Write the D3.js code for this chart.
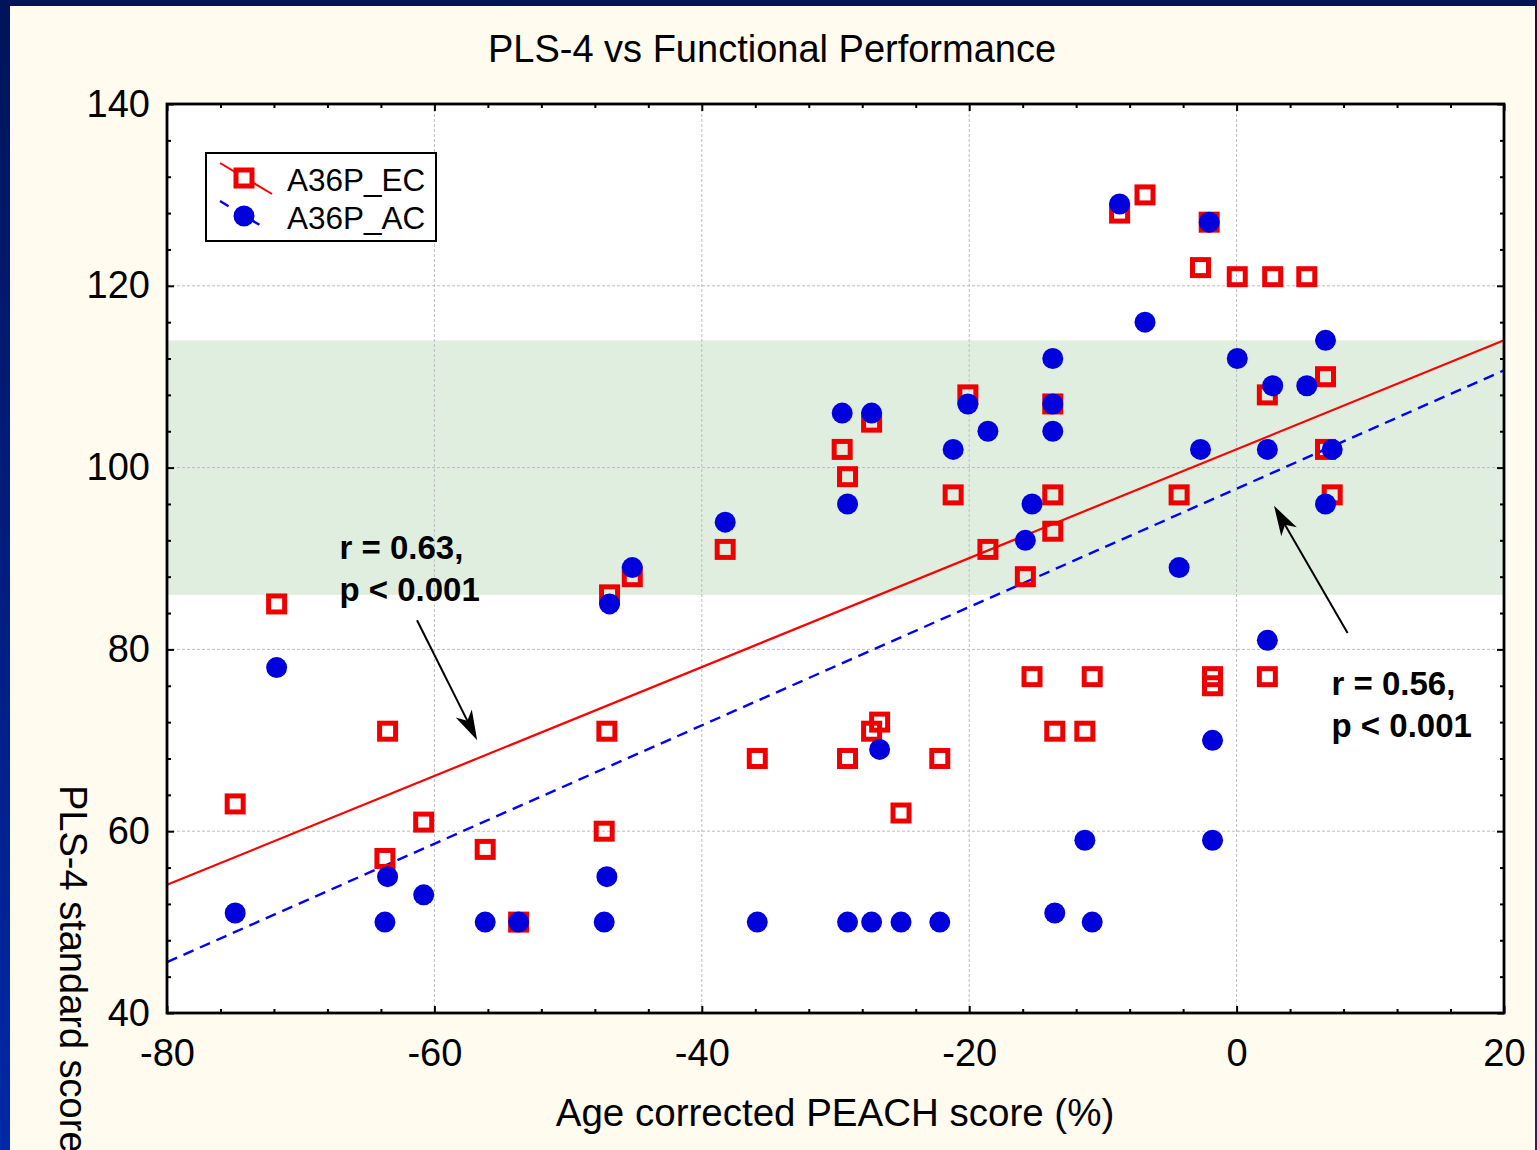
<!DOCTYPE html>
<html>
<head>
<meta charset="utf-8">
<script src="https://cdn.jsdelivr.net/npm/d3@7"></script>
<style>
	body { margin: 0; overflow: hidden; background: #00176a; }
	text { font-family: "Liberation Sans", Arial, sans-serif; }
</style>
</head>
<body>
<script>
// age corrected PEACH score (%), shared by both series (paired subjects)
const peach_scores = [-74.9, -71.8, -63.7, -63.5, -60.8, -56.2, -53.7, -47.3, -47.1, -46.9,
	-45.2, -38.25, -35.85, -29.5, -29.1, -29.1, -27.3, -27.3, -26.7, -25.1,
	-22.2, -21.2, -20.1, -18.6, -15.8, -15.3, -13.75, -13.75, -13.75, -13.6,
	-11.35, -10.8, -8.75, -6.85, -4.3, -2.7, -2.05, -1.8, -1.8, 0.05,
	2.3, 2.3, 2.7, 5.25, 6.65, 6.65, 7.15];
// PLS-4 standard scores
const ec_scores = [63, 85, 57, 71, 61, 58, 50, 60, 71, 86,
	88, 91, 68, 102, 99, 68, 105, 71, 72, 62,
	68, 97, 108, 91, 88, 77, 107, 97, 93, 71,
	71, 77, 128, 130, 97, 122, 127, 77, 76, 121,
	108, 77, 121, 121, 110, 102, 97];
const ac_scores = [51, 78, 50, 55, 53, 50, 50, 50, 55, 85,
	89, 94, 50, 106, 96, 50, 106, 50, 69, 50,
	50, 102, 107, 104, 92, 96, 112, 107, 104, 51,
	59, 50, 129, 116, 89, 102, 127, 70, 59, 112,
	102, 81, 109, 109, 114, 96, 102];

const series_names = ['A36P_EC', 'A36P_AC'];
// regression line end points
const ec_fit = [[-80, 54.1], [20, 114.0]];
const ac_fit = [[-80, 45.6], [20, 110.7]];
// normal range band
const normal_band = [86, 114];

const x_ticks = [-80, -60, -40, -20, 0, 20];
const y_ticks = [40, 60, 80, 100, 120, 140];

const note_texts = [['r = 0.63,', 'p < 0.001'], ['r = 0.56,', 'p < 0.001']];
const note_anchors = [[-67.1, 89.9], [7.1, 75.0]];
const note_arrows = [[[-61.3, 83.2], [-56.8, 70.0]], [[8.3, 81.8], [2.8, 95.8]]];

function init()
{
	const width = 1537, height = 1150;
	const plot = {left: 167, right: 1504, top: 104, bottom: 1013};
	const font = '"Liberation Sans", Arial, sans-serif';

	var svg = d3.select('body').append('svg')
		.attr('width', width)
		.attr('height', height);

	var grad = svg.append('defs').append('linearGradient')
		.attr('id', 'frame')
		.attr('x1', 0).attr('y1', 0).attr('x2', 0).attr('y2', 1);
	grad.append('stop').attr('offset', '0%').attr('stop-color', '#00145a');
	grad.append('stop').attr('offset', '100%').attr('stop-color', '#0028a8');

	svg.append('rect').attr('width', width).attr('height', height).attr('fill', 'url(#frame)');
	svg.append('rect')
		.attr('x', 10).attr('y', 6)
		.attr('width', 1525).attr('height', height - 6)
		.attr('fill', '#fffbef');

	var x = d3.scaleLinear().domain([-80, 20]).range([plot.left, plot.right]);
	var y = d3.scaleLinear().domain([40, 140]).range([plot.bottom, plot.top]);

	// plot area
	svg.append('rect')
		.attr('x', plot.left).attr('y', plot.top)
		.attr('width', plot.right - plot.left).attr('height', plot.bottom - plot.top)
		.attr('fill', '#ffffff');

	svg.append('rect')
		.attr('x', plot.left)
		.attr('y', y(normal_band[1]))
		.attr('width', plot.right - plot.left)
		.attr('height', y(normal_band[0]) - y(normal_band[1]))
		.attr('fill', '#e0eee0');

	// grid
	var grid = svg.append('g')
		.attr('stroke', '#bdbdbd')
		.attr('stroke-width', 1)
		.attr('stroke-dasharray', '3,2');
	grid.selectAll('.gx')
		.data(x_ticks.slice(1, -1))
		.enter()
		.append('line')
			.attr('x1', function(d) { return x(d); })
			.attr('x2', function(d) { return x(d); })
			.attr('y1', plot.top)
			.attr('y2', plot.bottom);
	grid.selectAll('.gy')
		.data(y_ticks.slice(1, -1))
		.enter()
		.append('line')
			.attr('x1', plot.left)
			.attr('x2', plot.right)
			.attr('y1', function(d) { return y(d); })
			.attr('y2', function(d) { return y(d); });

	// regression lines
	var line = d3.line()
		.x(function(d) { return x(d[0]); })
		.y(function(d) { return y(d[1]); });
	svg.append('path')
		.datum(ec_fit)
		.attr('fill', 'none')
		.attr('stroke', '#ff0000')
		.attr('stroke-width', 2.2)
		.attr('d', line);
	svg.append('path')
		.datum(ac_fit)
		.attr('fill', 'none')
		.attr('stroke', '#0000ff')
		.attr('stroke-width', 2.4)
		.attr('stroke-dasharray', '11,7')
		.attr('d', line);

	// points
	svg.append('g')
		.selectAll('rect')
		.data(peach_scores)
		.enter()
		.append('rect')
			.attr('x', function(d) { return x(d) - 8; })
			.attr('y', function(d, i) { return y(ec_scores[i]) - 8; })
			.attr('width', 16)
			.attr('height', 16)
			.attr('fill', 'none')
			.attr('stroke', '#ee0000')
			.attr('stroke-width', 5);
	svg.append('g')
		.selectAll('circle')
		.data(peach_scores)
		.enter()
		.append('circle')
			.attr('cx', function(d) { return x(d); })
			.attr('cy', function(d, i) { return y(ac_scores[i]); })
			.attr('r', 10.5)
			.attr('fill', '#0000dd');

	// axes, ticks point inward on all four sides
	var minor_x = d3.range(-80, 21, 4).filter(function(d) { return x_ticks.indexOf(d) < 0; });
	var minor_y = d3.range(40, 141, 4).filter(function(d) { return y_ticks.indexOf(d) < 0; });

	function draw_axis(axis, tx, ty, values, size, labels, pad)
	{
		var g = svg.append('g')
			.attr('transform', 'translate(' + tx + ',' + ty + ')')
			.call(axis.tickValues(values)
				.tickSizeInner(-size)
				.tickSizeOuter(0)
				.tickPadding(pad || 3)
				.tickFormat(labels ? function(d) { return String(d); } : ''));
		g.select('.domain').remove();
		g.selectAll('line').attr('stroke', '#000').attr('stroke-width', 2);
		g.attr('font-family', font).attr('font-size', 38);
		g.selectAll('text').attr('fill', '#000');
		return g;
	}

	draw_axis(d3.axisBottom(x), 0, plot.bottom, x_ticks, 7, true, 26);
	draw_axis(d3.axisBottom(x), 0, plot.bottom, minor_x, 4, false);
	draw_axis(d3.axisTop(x), 0, plot.top, x_ticks, 7, false);
	draw_axis(d3.axisTop(x), 0, plot.top, minor_x, 4, false);
	draw_axis(d3.axisLeft(y), plot.left, 0, y_ticks, 7, true, 17);
	draw_axis(d3.axisLeft(y), plot.left, 0, minor_y, 4, false);
	draw_axis(d3.axisRight(y), plot.right, 0, y_ticks, 7, false);
	draw_axis(d3.axisRight(y), plot.right, 0, minor_y, 4, false);

	svg.append('rect')
		.attr('x', plot.left).attr('y', plot.top)
		.attr('width', plot.right - plot.left).attr('height', plot.bottom - plot.top)
		.attr('fill', 'none')
		.attr('stroke', '#000')
		.attr('stroke-width', 2.8);

	// titles
	svg.append('text')
		.attr('x', 772).attr('y', 62)
		.attr('text-anchor', 'middle')
		.attr('font-size', 38)
		.text('PLS-4 vs Functional Performance');
	svg.append('text')
		.attr('x', 835).attr('y', 1126)
		.attr('text-anchor', 'middle')
		.attr('font-size', 38.5)
		.text('Age corrected PEACH score (%)');
	svg.append('text')
		.attr('transform', 'translate(60,785) rotate(90)')
		.attr('font-size', 38)
		.text('PLS-4 standard score');

	// legend
	var legend = svg.append('g');
	legend.append('rect')
		.attr('x', 206).attr('y', 153)
		.attr('width', 230).attr('height', 88)
		.attr('fill', '#ffffff')
		.attr('stroke', '#000')
		.attr('stroke-width', 2);
	legend.append('line')
		.attr('x1', 220).attr('y1', 163).attr('x2', 272).attr('y2', 194)
		.attr('stroke', '#ff0000').attr('stroke-width', 2);
	legend.append('rect')
		.attr('x', 236).attr('y', 170).attr('width', 16).attr('height', 16)
		.attr('fill', '#ffffff').attr('stroke', '#ee0000').attr('stroke-width', 5);
	legend.append('line')
		.attr('x1', 220).attr('y1', 201).attr('x2', 268).attr('y2', 230)
		.attr('stroke', '#0000ff').attr('stroke-width', 2.4)
		.attr('stroke-dasharray', '10,26');
	legend.append('circle')
		.attr('cx', 244).attr('cy', 216).attr('r', 10.5)
		.attr('fill', '#0000dd');
	legend.selectAll('.lt')
		.data(series_names)
		.enter()
		.append('text')
			.attr('x', 287)
			.attr('y', function(d, i) { return 191 + i * 38; })
			.attr('font-size', 31.5)
			.text(function(d) { return d; });

	// correlation notes with arrows
	note_texts.forEach(function(lines, k)
	{
		var t = svg.append('text')
			.attr('font-size', 33)
			.attr('font-weight', 'bold');
		lines.forEach(function(s, j)
		{
			t.append('tspan')
				.attr('x', x(note_anchors[k][0]))
				.attr('y', y(note_anchors[k][1]) + j * 42)
				.text(s);
		});

		var p0 = [x(note_arrows[k][0][0]), y(note_arrows[k][0][1])];
		var p1 = [x(note_arrows[k][1][0]), y(note_arrows[k][1][1])];
		var a = Math.atan2(p1[1] - p0[1], p1[0] - p0[0]);
		var len = 30, half = 9;
		var bx = p1[0] - len * Math.cos(a), by = p1[1] - len * Math.sin(a);
		svg.append('line')
			.attr('x1', p0[0]).attr('y1', p0[1])
			.attr('x2', p1[0] - 10 * Math.cos(a)).attr('y2', p1[1] - 10 * Math.sin(a))
			.attr('stroke', '#000').attr('stroke-width', 2);
		svg.append('path')
			.attr('d', 'M' + p1[0] + ',' + p1[1]
				+ 'L' + (bx + half * Math.sin(a)) + ',' + (by - half * Math.cos(a))
				+ 'L' + (p1[0] - 22 * Math.cos(a)) + ',' + (p1[1] - 22 * Math.sin(a))
				+ 'L' + (bx - half * Math.sin(a)) + ',' + (by + half * Math.cos(a)) + 'Z')
			.attr('fill', '#000');
	});
}

init();
</script>
</body>
</html>
